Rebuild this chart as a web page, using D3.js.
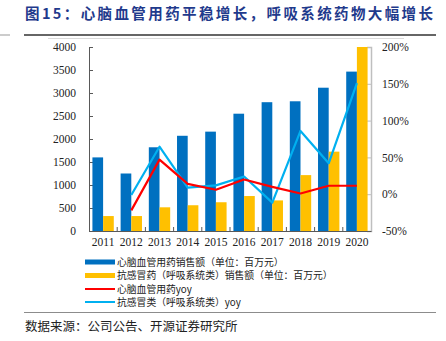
<!DOCTYPE html>
<html>
<head>
<meta charset="utf-8">
<script src="https://cdn.jsdelivr.net/npm/d3@7"></script>
<style>
  body { margin: 0; background: #fff; }
  svg { display: block; }
</style>
</head>
<body>
<svg id="chart"></svg>
<script>
// Sales data, 2011-2020
const years = ["2011", "2012", "2013", "2014", "2015", "2016", "2017", "2018", "2019", "2020"];
const cardioSales = [1600, 1250, 1820, 2070, 2160, 2550, 2800, 2820, 3115, 3465];
const respSales = [325, 325, 515, 560, 625, 760, 665, 1215, 1725, 4000];
// yoy growth (%), first year has no value
const cardioYoy = [null, -22, 47, 14, 6, 20, 10, 1, 11.5, 11.5];
const respYoy = [null, -1, 64.5, 9, 12, 24, -11.5, 86, 42, 151];
const leftTicks = [0, 500, 1000, 1500, 2000, 2500, 3000, 3500, 4000];
const rightTicks = [-50, 0, 50, 100, 150, 200];

const legendItems = [
  { label: "心脑血管用药销售额（单位：百万元）", color: "#0070C0", type: "bar" },
  { label: "抗感冒药（呼吸系统类）销售额（单位：百万元）", color: "#FFC000", type: "bar" },
  { label: "心脑血管用药yoy", color: "#FF0000", type: "line" },
  { label: "抗感冒类（呼吸系统类）yoy", color: "#00B0F0", type: "line" }
];

const width = 446, height = 341;
const svg = d3.select("#chart").attr("width", width).attr("height", height);

const serif = "'Liberation Serif', 'Times New Roman', serif";
const cjk = "'Noto Sans CJK SC', sans-serif";

// title + rules
svg.append("text")
  .attr("x", 25).attr("y", 19)
  .attr("font-family", cjk).attr("font-weight", "bold")
  .attr("font-size", 14.5).attr("fill", "#1F3A8C")
  .attr("textLength", 408).attr("lengthAdjust", "spacing")
  .text("图15：心脑血管用药平稳增长，呼吸系统药物大幅增长");
svg.append("line").attr("x1", 24).attr("x2", 436).attr("y1", 35).attr("y2", 35)
  .attr("stroke", "#333").attr("stroke-width", 1.3);
svg.append("line").attr("x1", 0).attr("x2", 10).attr("y1", 35).attr("y2", 35)
  .attr("stroke", "#999").attr("stroke-width", 1);
svg.append("line").attr("x1", 48).attr("x2", 404).attr("y1", 38.5).attr("y2", 38.5)
  .attr("stroke", "#d9d9d9").attr("stroke-width", 1);

// plot area
const plotL = 89, plotR = 371, plotT = 47, plotB = 231;

const x = d3.scaleBand().domain(years).range([plotL, plotR]);
const xInner = d3.scaleBand().domain(["cardio", "resp"]).range([0, x.bandwidth()]).paddingOuter(0.32);
const yLeft = d3.scaleLinear().domain([0, 4000]).range([plotB, plotT]);
const yRight = d3.scaleLinear().domain([-50, 200]).range([plotB, plotT]);

// left axis
const leftAxis = svg.append("g")
  .attr("transform", `translate(${plotL},0)`)
  .call(d3.axisLeft(yLeft).tickValues(leftTicks).tickSize(-4).tickPadding(13)
    .tickFormat(d3.format("d")));
leftAxis.select(".domain").attr("stroke", "#595959");
leftAxis.selectAll(".tick line").attr("stroke", "#595959");
leftAxis.selectAll("text").attr("font-family", serif).attr("font-size", 11.5).attr("fill", "#222");

// right axis
const rightAxis = svg.append("g")
  .attr("transform", `translate(${plotR},0)`)
  .call(d3.axisRight(yRight).tickValues(rightTicks).tickSize(-4).tickPadding(11)
    .tickFormat(d => d + "%"));
rightAxis.select(".domain").attr("stroke", "#bfbfbf").attr("stroke-width", 1.5);
rightAxis.selectAll(".tick line").attr("stroke", "#bfbfbf");
rightAxis.selectAll("text").attr("font-family", serif).attr("font-size", 11.5).attr("fill", "#222");

// bars
const barGroups = svg.append("g").selectAll("g")
  .data(years.map((yr, i) => ({ yr, cardio: cardioSales[i], resp: respSales[i] })))
  .join("g")
  .attr("transform", d => `translate(${x(d.yr)},0)`);

barGroups.append("rect")
  .attr("x", xInner("cardio")).attr("width", xInner.bandwidth())
  .attr("y", d => yLeft(d.cardio)).attr("height", d => plotB - yLeft(d.cardio))
  .attr("fill", "#0070C0");
barGroups.append("rect")
  .attr("x", xInner("resp")).attr("width", xInner.bandwidth())
  .attr("y", d => yLeft(d.resp)).attr("height", d => plotB - yLeft(d.resp))
  .attr("fill", "#FFC000");

// x axis
const xAxis = svg.append("g")
  .attr("transform", `translate(0,${plotB})`)
  .call(d3.axisBottom(x).tickSize(0).tickPadding(7));
xAxis.select(".domain").attr("stroke", "#595959");
xAxis.selectAll("text").attr("font-family", serif).attr("font-size", 11.5).attr("fill", "#222");
// tick marks between categories
svg.append("g").selectAll("line")
  .data(years.slice(1))
  .join("line")
  .attr("x1", d => x(d)).attr("x2", d => x(d))
  .attr("y1", plotB).attr("y2", plotB - 4)
  .attr("stroke", "#595959");

// yoy lines
const line = d3.line()
  .defined(d => d.v !== null)
  .x(d => x(d.yr) + x.bandwidth() / 2)
  .y(d => yRight(d.v));

svg.append("path")
  .datum(years.map((yr, i) => ({ yr, v: respYoy[i] })))
  .attr("d", line).attr("fill", "none")
  .attr("stroke", "#00B0F0").attr("stroke-width", 2.2).attr("stroke-linejoin", "round");
svg.append("path")
  .datum(years.map((yr, i) => ({ yr, v: cardioYoy[i] })))
  .attr("d", line).attr("fill", "none")
  .attr("stroke", "#FF0000").attr("stroke-width", 2.2).attr("stroke-linejoin", "round");

// legend
const legendY = [262, 275.5, 289, 302];
const legend = svg.append("g").selectAll("g")
  .data(legendItems)
  .join("g")
  .attr("transform", (d, i) => `translate(85,${legendY[i]})`);
legend.append("rect")
  .attr("x", 0).attr("width", 30)
  .attr("y", d => d.type === "bar" ? -2.5 : -1)
  .attr("height", d => d.type === "bar" ? 5 : 2)
  .attr("fill", d => d.color);
legend.append("text")
  .attr("x", 32).attr("y", 0).attr("dy", "0.36em")
  .attr("font-family", cjk).attr("font-size", 9.8).attr("fill", "#222")
  .text(d => d.label);

// source
svg.append("line").attr("x1", 24).attr("x2", 436).attr("y1", 312.5).attr("y2", 312.5)
  .attr("stroke", "#8c8c8c").attr("stroke-width", 1.2);
svg.append("text")
  .attr("x", 25).attr("y", 331)
  .attr("font-family", cjk).attr("font-size", 12.5).attr("fill", "#222")
  .text("数据来源：公司公告、开源证券研究所");
</script>
</body>
</html>
